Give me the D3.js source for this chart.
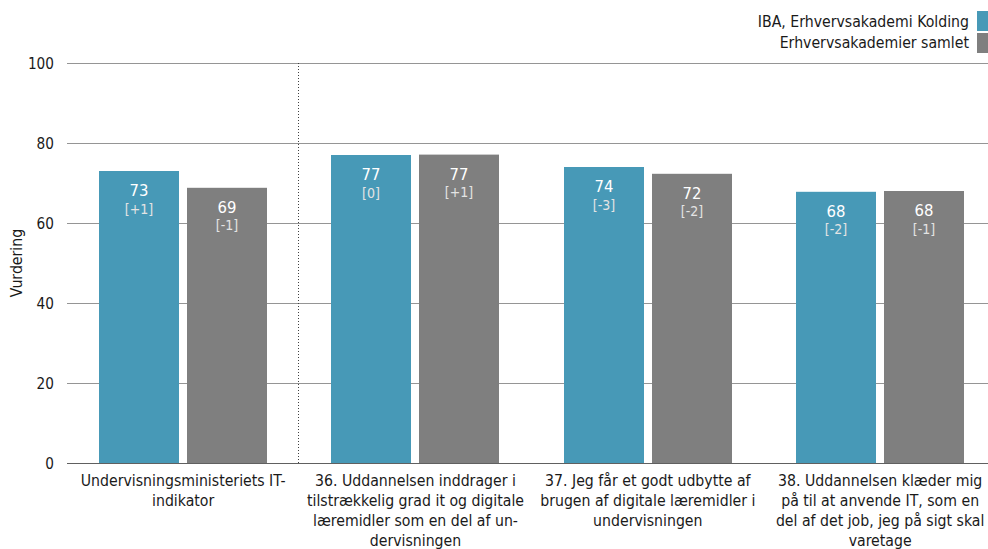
<!DOCTYPE html>
<html><head><meta charset="utf-8">
<script src="https://cdn.jsdelivr.net/npm/d3@7"></script>
<style>
html,body{margin:0;padding:0;background:#fff;}
svg text{font-family:"DejaVu Sans Condensed","DejaVu Sans",sans-serif;}
</style></head>
<body><svg id="c" width="988" height="549"></svg>
<script>
const categories = [
  ["Undervisningsministeriets IT-","indikator"],
  ["36. Uddannelsen inddrager i","tilstrækkelig grad it og digitale","læremidler som en del af un-","dervisningen"],
  ["37. Jeg får et godt udbytte af","brugen af digitale læremidler i","undervisningen"],
  ["38. Uddannelsen klæder mig","på til at anvende IT, som en","del af det job, jeg på sigt skal","varetage"]
];
const seriesNames = ["IBA, Erhvervsakademi Kolding","Erhvervsakademier samlet"];
const ibaValues = [73, 77, 74, 67.8];
const samletValues = [68.8, 77.1, 72.3, 68];
const ibaLabels = ["73","77","74","68"];
const samletLabels = ["69","77","72","68"];
const ibaChange = ["[+1]","[0]","[-3]","[-2]"];
const samletChange = ["[-1]","[+1]","[-2]","[-1]"];
const yTicks = [0,20,40,60,80,100];
const colors = ["#4799b7","#7f7f7f"];

const svg = d3.select("#c");
const x0 = d3.scaleBand().domain(d3.range(categories.length)).range([67, 996.3]).paddingInner(0).paddingOuter(0);
const y = d3.scaleLinear().domain([0,100]).range([463,63]);
const barW = 80, gap = 8;
const fs = 15.7;

svg.append("g").selectAll("line").data(yTicks).join("line")
  .attr("x1",67).attr("x2",988).attr("y1",d=>y(d)+0.5).attr("y2",d=>y(d)+0.5)
  .attr("stroke",d=>d===0?"#606060":"#959595").attr("stroke-width",1);
svg.append("g").selectAll("text").data(yTicks).join("text")
  .attr("x",54).attr("y",d=>y(d)+5.5).attr("text-anchor","end")
  .attr("font-size",15.2).attr("fill","#1a1a1a").text(d=>d);

svg.append("text").attr("transform",`translate(22,${(y(0)+y(100))/2}) rotate(-90)`)
  .attr("text-anchor","middle").attr("font-size",fs).attr("fill","#1a1a1a").text("Vurdering");

const sepX = Math.round(x0(1)) - 0.5;
svg.append("line").attr("x1",sepX).attr("x2",sepX).attr("y1",y(100)).attr("y2",y(0))
  .attr("stroke","#404040").attr("stroke-width",1).attr("stroke-dasharray","1,2");

const series = [
  {vals: ibaValues, labs: ibaLabels, chg: ibaChange, off: -gap/2 - barW},
  {vals: samletValues, labs: samletLabels, chg: samletChange, off: gap/2}
];
series.forEach((s, si) => {
  const g = svg.append("g");
  s.vals.forEach((v, i) => {
    const cx = x0(i) + x0.bandwidth()/2;
    const bx = Math.round(cx + s.off);
    g.append("rect").attr("x",bx).attr("y",y(v)).attr("width",barW).attr("height",y(0)-y(v))
      .attr("fill",colors[si]);
    g.append("text").attr("x",bx+barW/2).attr("y",y(v)+25).attr("text-anchor","middle")
      .attr("font-size",16.5).attr("fill","#ffffff").text(s.labs[i]);
    g.append("text").attr("x",bx+barW/2).attr("y",y(v)+42.5).attr("text-anchor","middle")
      .attr("font-size",14).attr("fill","#e4e4e4").text(s.chg[i]);
  });
});

categories.forEach((lines, i) => {
  const cx = x0(i) + x0.bandwidth()/2;
  const t = svg.append("text").attr("text-anchor","middle").attr("font-size",fs).attr("fill","#1a1a1a");
  lines.forEach((ln, j) => {
    t.append("tspan").attr("x",cx).attr("y",485.5 + j*20.3).text(ln);
  });
});

seriesNames.forEach((n, i) => {
  svg.append("rect").attr("x",977).attr("y",11 + i*22).attr("width",14).attr("height",20).attr("fill",colors[i]);
  svg.append("text").attr("x",969).attr("y",27 + i*21).attr("text-anchor","end")
    .attr("font-size",fs).attr("fill","#1a1a1a").text(n);
});
</script></body></html>
